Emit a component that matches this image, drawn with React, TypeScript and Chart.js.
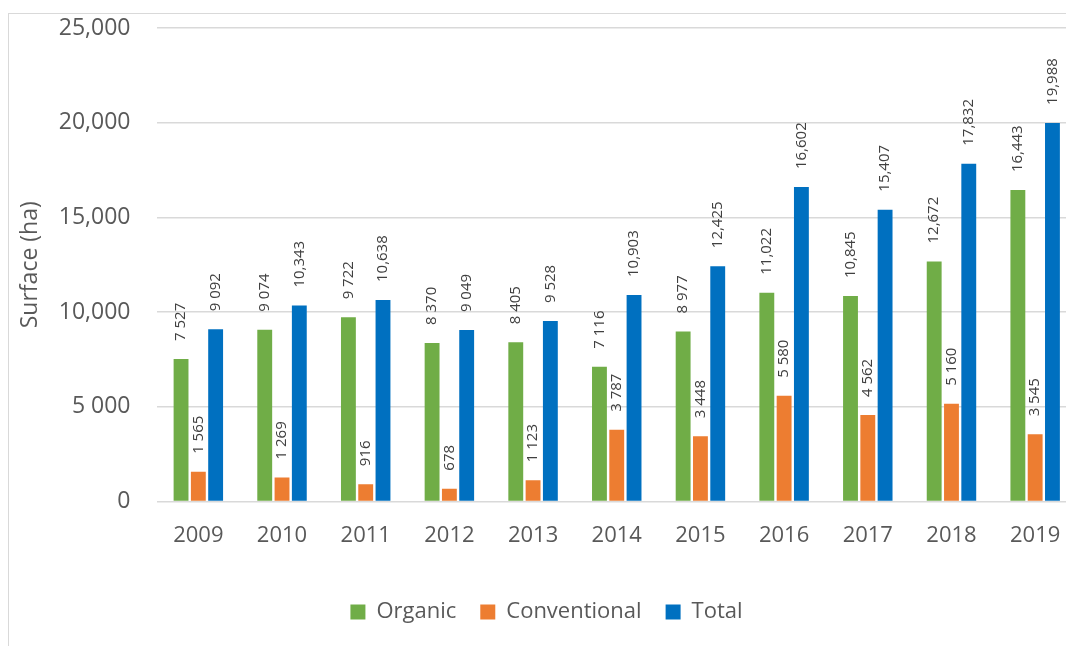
import React, { useEffect, useRef } from "react";
import { Chart, registerables } from "chart.js";

Chart.register(...registerables);

const years = ["2009", "2010", "2011", "2012", "2013", "2014", "2015", "2016", "2017", "2018", "2019"];
const organic = [7527, 9074, 9722, 8370, 8405, 7116, 8977, 11022, 10845, 12672, 16443];
const conventional = [1565, 1269, 916, 678, 1123, 3787, 3448, 5580, 4562, 5160, 3545];
const total = [9092, 10343, 10638, 9049, 9528, 10903, 12425, 16602, 15407, 17832, 19988];

const organicLabels = ["7 527", "9 074", "9 722", "8 370", "8 405", "7 116", "8 977", "11,022", "10,845", "12,672", "16,443"];
const conventionalLabels = ["1 565", "1 269", "916", "678", "1 123", "3 787", "3 448", "5 580", "4 562", "5 160", "3 545"];
const totalLabels = ["9 092", "10,343", "10,638", "9 049", "9 528", "10,903", "12,425", "16,602", "15,407", "17,832", "19,988"];

const yTickValues = [0, 5000, 10000, 15000, 20000, 25000];
const yTickLabels = ["0", "5 000", "10,000", "15,000", "20,000", "25,000"];

const FONT = "'Open Sans', sans-serif";
const TEXT = "#595959";

const barLabelPlugin = {
  id: "barLabels",
  afterDatasetsDraw(chart: any) {
    const ctx = chart.ctx;
    const labelSets = [organicLabels, conventionalLabels, totalLabels];
    ctx.save();
    ctx.font = `15px ${FONT}`;
    ctx.fillStyle = "#404040";
    ctx.textAlign = "left";
    ctx.textBaseline = "middle";
    chart.data.datasets.forEach((_ds: any, i: number) => {
      const meta = chart.getDatasetMeta(i);
      meta.data.forEach((bar: any, j: number) => {
        ctx.save();
        ctx.translate(bar.x, bar.y - 18);
        ctx.rotate(-Math.PI / 2);
        ctx.fillText(labelSets[i][j], 0, 0);
        ctx.restore();
      });
    });
    ctx.restore();
  },
};

export default function App() {
  const ref = useRef<HTMLCanvasElement>(null);

  useEffect(() => {
    Chart.defaults.font.family = FONT;
    const chart = new Chart(ref.current as HTMLCanvasElement, {
      type: "bar",
      data: {
        labels: years,
        datasets: [
          { label: "Organic", data: organic, backgroundColor: "#70AD47" },
          { label: "Conventional", data: conventional, backgroundColor: "#ED7D31" },
          { label: "Total", data: total, backgroundColor: "#0070C0" },
        ],
      },
      options: {
        responsive: false,
        animation: false,
        datasets: { bar: { categoryPercentage: 0.62, barPercentage: 0.86 } },
        layout: { padding: { left: 7, right: 0, top: 14, bottom: 0 } },
        plugins: {
          legend: {
            position: "bottom",
            labels: {
              boxWidth: 15,
              boxHeight: 15,
              padding: 24,
              color: TEXT,
              font: { size: 22, family: FONT },
            },
          },
          tooltip: { enabled: false },
        },
        scales: {
          x: {
            grid: { display: false },
            border: { display: false },
            ticks: { color: TEXT, font: { size: 22, family: FONT }, padding: 13 },
            afterFit: (scale: any) => {
              scale.height = 75.5;
              scale.paddingTop = 0;
              scale.paddingBottom = 0;
            },
          },
          y: {
            min: 0,
            max: 25000,
            grid: { color: "#d9d9d9", lineWidth: 1.5, drawTicks: false },
            border: { display: false },
            ticks: {
              stepSize: 5000,
              color: TEXT,
              padding: 26,
              font: { size: 23, family: FONT },
              callback: (value: any) => {
                const idx = yTickValues.indexOf(Number(value));
                return idx >= 0 ? yTickLabels[idx] : "";
              },
            },
            title: {
              display: true,
              text: "Surface (ha)",
              color: TEXT,
              font: { size: 23, family: FONT },
              padding: { top: 1, bottom: 0 },
            },
            afterFit: (scale: any) => {
              scale.width = 140.5;
              scale.paddingTop = 0;
              scale.paddingBottom = 0;
            },
          },
        },
      } as any,
      plugins: [barLabelPlugin],
    });
    return () => chart.destroy();
  }, []);

  return (
    <div
      style={{
        position: "fixed",
        left: 0,
        top: 0,
        width: 1066,
        height: 646,
        overflow: "hidden",
        background: "#ffffff",
      }}
    >
      <div
        style={{
          position: "absolute",
          left: 8,
          top: 13,
          width: 1200,
          height: 800,
          border: "1px solid #d9d9d9",
        }}
      >
        <canvas ref={ref} width={1068} height={619} style={{ display: "block", width: 1068, height: 619 }} />
      </div>
    </div>
  );
}
